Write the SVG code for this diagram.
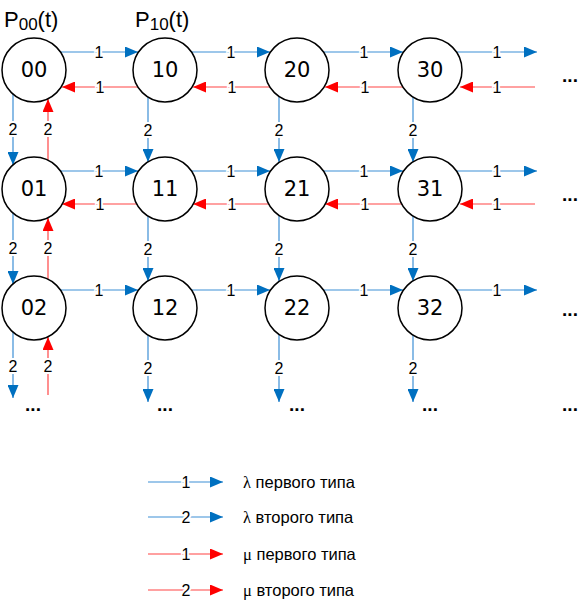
<svg xmlns="http://www.w3.org/2000/svg" width="581" height="600" viewBox="0 0 581 600">
<style>
.node circle{fill:#fff;stroke:#000;stroke-width:1.5}
.node text{font-family:"DejaVu Sans",sans-serif;font-size:21px;text-anchor:middle;dominant-baseline:central;fill:#000}
.b{stroke:#3d8fd6;stroke-width:1.2;fill:none;marker-end:url(#ab)}
.r{stroke:#ff4545;stroke-width:1.2;fill:none;marker-end:url(#ar)}
.rl{stroke:#ff8080;stroke-width:1.6;fill:none;marker-end:url(#ar)}
.lab{font-family:"Liberation Sans",Arial,sans-serif;font-size:16px;text-anchor:middle;dominant-baseline:central;fill:#000;stroke:#fff;stroke-width:4;paint-order:stroke}
.dots{font-family:"Liberation Sans",Arial,sans-serif;font-size:19px;font-weight:bold;text-anchor:middle;fill:#000}
.ttl{font-family:"Liberation Sans",Arial,sans-serif;font-size:22px;fill:#000}
.leg{font-family:"Liberation Sans",Arial,sans-serif;font-size:16.5px;fill:#000;dominant-baseline:central}
.gr{font-family:"Liberation Serif",serif}
</style>
<defs>
<marker id="ab" markerUnits="userSpaceOnUse" markerWidth="14" markerHeight="11" refX="13" refY="5.5" orient="auto"><path d="M0,0 L13,5.5 L0,11 Z" fill="#0070c0"/></marker>
<marker id="ar" markerUnits="userSpaceOnUse" markerWidth="14" markerHeight="11" refX="13" refY="5.5" orient="auto"><path d="M0,0 L13,5.5 L0,11 Z" fill="#ff0000"/></marker>
</defs>
<text class="ttl" x="4" y="27">P<tspan font-size="17" dy="3">00</tspan><tspan dy="-3">(t)</tspan></text>
<text class="ttl" x="135" y="27">P<tspan font-size="17" dy="3">10</tspan><tspan dy="-3">(t)</tspan></text>
<g id="connectors">
<line class="b" x1="60" y1="52" x2="138" y2="52"/>
<line class="r" x1="138" y1="87" x2="62" y2="87"/>
<line class="b" x1="191" y1="52" x2="270" y2="52"/>
<line class="r" x1="270" y1="87" x2="193" y2="87"/>
<line class="b" x1="323" y1="52" x2="403" y2="52"/>
<line class="r" x1="403" y1="87" x2="325" y2="87"/>
<line class="b" x1="457" y1="52" x2="537" y2="52"/>
<line class="r" x1="535" y1="87" x2="460" y2="87"/>
<line class="b" x1="60" y1="171" x2="138" y2="171"/>
<line class="r" x1="138" y1="204" x2="62" y2="204"/>
<line class="b" x1="191" y1="171" x2="270" y2="171"/>
<line class="r" x1="270" y1="204" x2="193" y2="204"/>
<line class="b" x1="323" y1="171" x2="403" y2="171"/>
<line class="r" x1="403" y1="204" x2="325" y2="204"/>
<line class="b" x1="457" y1="171" x2="537" y2="171"/>
<line class="r" x1="535" y1="204" x2="460" y2="204"/>
<line class="b" x1="60" y1="290" x2="138" y2="290"/>
<line class="b" x1="191" y1="290" x2="270" y2="290"/>
<line class="b" x1="323" y1="290" x2="403" y2="290"/>
<line class="b" x1="457" y1="290" x2="537" y2="290"/>
<line class="b" x1="13" y1="94" x2="13" y2="165"/>
<line class="r" x1="48" y1="160" x2="48" y2="99"/>
<line class="b" x1="13" y1="213" x2="13" y2="284"/>
<line class="r" x1="48" y1="279" x2="48" y2="218"/>
<line class="b" x1="13" y1="332" x2="13" y2="398"/>
<line class="r" x1="48" y1="395" x2="48" y2="337"/>
<line class="b" x1="148" y1="97" x2="148" y2="162"/>
<line class="b" x1="148" y1="216" x2="148" y2="281"/>
<line class="b" x1="148" y1="335" x2="148" y2="402"/>
<line class="b" x1="279" y1="97" x2="279" y2="162"/>
<line class="b" x1="279" y1="216" x2="279" y2="281"/>
<line class="b" x1="279" y1="335" x2="279" y2="402"/>
<line class="b" x1="413" y1="97" x2="413" y2="162"/>
<line class="b" x1="413" y1="216" x2="413" y2="281"/>
<line class="b" x1="413" y1="335" x2="413" y2="402"/>
<text class="lab" x="99" y="52">1</text><text class="lab" x="100" y="87">1</text>
<text class="lab" x="231" y="52">1</text><text class="lab" x="232" y="87">1</text>
<text class="lab" x="364" y="52">1</text><text class="lab" x="365" y="87">1</text>
<text class="lab" x="497" y="52">1</text><text class="lab" x="497" y="87">1</text>
<text class="lab" x="99" y="171">1</text><text class="lab" x="100" y="204">1</text>
<text class="lab" x="231" y="171">1</text><text class="lab" x="232" y="204">1</text>
<text class="lab" x="364" y="171">1</text><text class="lab" x="365" y="204">1</text>
<text class="lab" x="497" y="171">1</text><text class="lab" x="497" y="204">1</text>
<text class="lab" x="99" y="290">1</text>
<text class="lab" x="231" y="290">1</text>
<text class="lab" x="364" y="290">1</text>
<text class="lab" x="497" y="290">1</text>
<text class="lab" x="13" y="129">2</text><text class="lab" x="48" y="129">2</text>
<text class="lab" x="13" y="248">2</text><text class="lab" x="48" y="248">2</text>
<text class="lab" x="13" y="366">2</text><text class="lab" x="48" y="366">2</text>
<text class="lab" x="148" y="130">2</text><text class="lab" x="148" y="249">2</text><text class="lab" x="148" y="368">2</text>
<text class="lab" x="279" y="130">2</text><text class="lab" x="279" y="249">2</text><text class="lab" x="279" y="368">2</text>
<text class="lab" x="413" y="130">2</text><text class="lab" x="413" y="249">2</text><text class="lab" x="413" y="368">2</text>
</g>
<g id="n00" class="node"><circle cx="34" cy="70" r="32"/><text x="34" y="70">00</text></g>
<g id="n10" class="node"><circle cx="165" cy="70" r="32"/><text x="165" y="70">10</text></g>
<g id="n20" class="node"><circle cx="297" cy="70" r="32"/><text x="297" y="70">20</text></g>
<g id="n30" class="node"><circle cx="430" cy="70" r="32"/><text x="430" y="70">30</text></g>
<g id="n01" class="node"><circle cx="34" cy="189" r="32"/><text x="34" y="189">01</text></g>
<g id="n11" class="node"><circle cx="165" cy="189" r="32"/><text x="165" y="189">11</text></g>
<g id="n21" class="node"><circle cx="297" cy="189" r="32"/><text x="297" y="189">21</text></g>
<g id="n31" class="node"><circle cx="430" cy="189" r="32"/><text x="430" y="189">31</text></g>
<g id="n02" class="node"><circle cx="34" cy="308" r="32"/><text x="34" y="308">02</text></g>
<g id="n12" class="node"><circle cx="165" cy="308" r="32"/><text x="165" y="308">12</text></g>
<g id="n22" class="node"><circle cx="297" cy="308" r="32"/><text x="297" y="308">22</text></g>
<g id="n32" class="node"><circle cx="430" cy="308" r="32"/><text x="430" y="308">32</text></g>
<g id="ellipses">
<text class="dots" x="570" y="82">...</text>
<text class="dots" x="570" y="201">...</text>
<text class="dots" x="570" y="316">...</text>
<text class="dots" x="33" y="411">...</text>
<text class="dots" x="165" y="411">...</text>
<text class="dots" x="297" y="411">...</text>
<text class="dots" x="430" y="411">...</text>
<text class="dots" x="570" y="411">...</text>
</g>
<g id="legend">
<line class="b" x1="148" y1="482" x2="223" y2="482"/>
<text class="lab" x="186" y="482">1</text>
<text class="leg" x="243" y="482"><tspan class="gr">λ</tspan> первого типа</text>
<line class="b" x1="148" y1="517" x2="223" y2="517"/>
<text class="lab" x="186" y="517">2</text>
<text class="leg" x="243" y="517"><tspan class="gr">λ</tspan> второго типа</text>
<line class="rl" x1="148" y1="554" x2="223" y2="554"/>
<text class="lab" x="186" y="554">1</text>
<text class="leg" x="243" y="554"><tspan class="gr">μ</tspan> первого типа</text>
<line class="r" x1="148" y1="590" x2="223" y2="590"/>
<text class="lab" x="186" y="590">2</text>
<text class="leg" x="243" y="590"><tspan class="gr">μ</tspan> второго типа</text>
</g>
</svg>
